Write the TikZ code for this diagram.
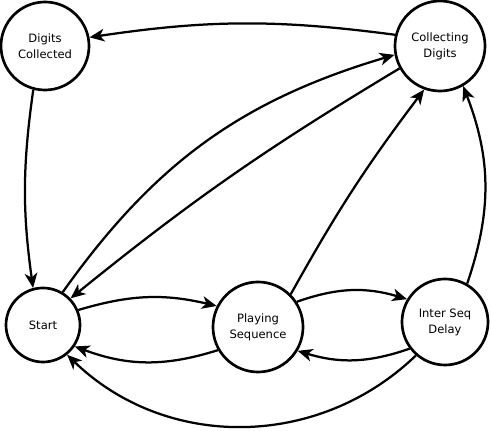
\documentclass[tikz,border=0pt]{standalone}
\usepackage{fontspec}
\setmainfont{DejaVu Sans}
\usetikzlibrary{arrows.meta}

\begin{document}
\begin{tikzpicture}[
    x=0.025cm, y=0.025cm,
    font=\fontsize{8.2}{11.4}\selectfont,
    st/.style={
      circle, draw=black, line width=1.9pt,
      align=center, inner sep=0pt
    },
    arr/.style={-{Stealth[length=10.5pt, width=9pt, inset=3pt]}, line width=1.6pt}
  ]
  \useasboundingbox (0,0) rectangle (491,431);
  \node[st, minimum size=2.2cm]  (dc)    at (45,385)  {Digits\\Collected};
  \node[st, minimum size=2.25cm] (cd)    at (440,385) {Collecting\\Digits};
  \node[st, minimum size=1.85cm] (start) at (43,106)  {Start};
  \node[st, minimum size=2.25cm] (play)  at (258,104) {Playing\\Sequence};
  \node[st, minimum size=2.15cm] (isd)   at (445,109) {Inter Seq\\Delay};

  \draw[arr] (cd.166) to[bend right=8] (dc.11);
  \draw[arr] (dc.255) to[bend right=8] (start.105);
  \draw[arr] (start.59) to[bend left=19] (cd.191);
  \draw[arr] (cd.209) to[bend right=4] (start.44);
  \draw[arr] (play.45) to[bend left=4] (cd.250);
  \draw[arr] (isd.60) to[bend right=20] (cd.300);
  \draw[arr] (start.23) to[bend left=15] (play.153);
  \draw[arr] (play.210) to[bend left=19] (start.326);
  \draw[arr] (play.33) to[bend left=18] (isd.149);
  \draw[arr] (isd.217) to[bend left=18] (play.329);
  \draw[arr] (isd.229) to[bend left=44] (start.309);
\end{tikzpicture}
\end{document}
